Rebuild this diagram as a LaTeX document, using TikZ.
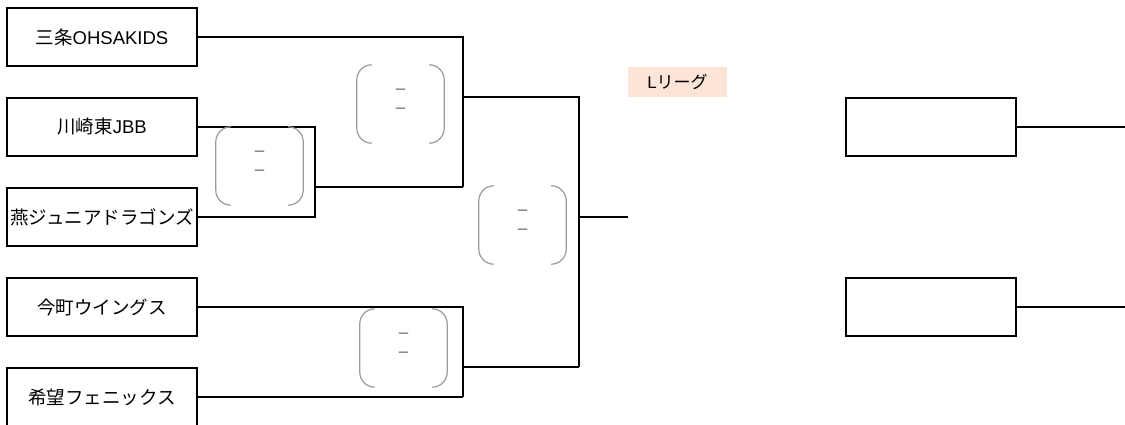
\documentclass[tikz,border=0pt]{standalone}
\usepackage{fontspec}
\setmainfont{Liberation Sans}
\newfontfamily\jp{Noto Sans CJK JP}
\begin{document}
\begin{tikzpicture}[x=1pt,y=-1pt,
  team/.style={draw=black,line width=2pt,minimum width=190pt,minimum height=58pt,inner sep=0pt,
    font=\fontsize{18.5}{20}\selectfont},
  blank/.style={draw=black,line width=2pt,minimum width=170pt,minimum height=58pt,inner sep=0pt},
  conn/.style={draw=black,line width=2pt},
  score/.style={minimum width=87pt,minimum height=78pt,inner sep=0pt},
  bracket/.style={draw=black!40,line width=1.2pt,rounded corners=15pt},
  dashmark/.style={text=black!80,font=\jp\fontsize{13}{14}\selectfont,inner sep=0pt},
  league/.style={fill=tagfill,minimum width=99pt,minimum height=30pt,inner sep=0pt,
    font=\fontsize{17}{19}\selectfont}]
\definecolor{tagfill}{HTML}{FCE4D6}
\useasboundingbox (0,0) rectangle (1125,425);
% team boxes
\node[team] (t1) at (102,37) {{\jp 三条}OHSAKIDS};
\node[team] (t2) at (102,127) {{\jp 川崎東}JBB};
\node[team] (t3) at (102,217) {\jp 燕ジュニアドラゴンズ};
\node[team] (t4) at (102,307) {\jp 今町ウイングス};
\node[team] (t5) at (102,397) {\jp 希望フェニックス};
% right blank boxes
\node[blank] (r1) at (931,127) {};
\node[blank] (r2) at (931,307) {};
% junction coordinates
\coordinate (q1) at (463,97);
\coordinate (q1b) at (463,187);
\coordinate (q2) at (315,187);
\coordinate (q3) at (579,217);
\coordinate (q3b) at (579,367);
\coordinate (q4) at (463,367);
\coordinate (q4b) at (463,397);
\coordinate (fin) at (628,217);
\coordinate (e1) at (1125,127);
\coordinate (e2) at (1125,307);
% connectors
\draw[conn] (t1.east) -| (q1b);
\draw[conn] (t2.east) -- ++(117,0) |- (t3.east);
\draw[conn] (q2) -- (q1b);
\draw[conn] (q1) -| (q3b);
\draw[conn] (q4) -- (q3b);
\draw[conn] (t4.east) -| (q4b);
\draw[conn] (t5.east) -- (q4b);
\draw[conn] (q3) -- (fin);
\draw[conn] (r1.east) -- (e1);
\draw[conn] (r2.east) -- (e2);
% score brackets
\node[score] (s1) at (400.5,104) {};
\node[score] (s2) at (259.5,166) {};
\node[score] (s3) at (522.5,225) {};
\node[score] (s4) at (403.5,348) {};
\foreach \s in {s1,s2,s3,s4}{
  \draw[bracket] ([xshift=15pt]\s.north west) -| (\s.south west) -- ([xshift=15pt]\s.south west);
  \draw[bracket] ([xshift=-15pt]\s.north east) -| (\s.south east) -- ([xshift=-15pt]\s.south east);
  \node[dashmark] (\s u) at ([yshift=12pt]\s.center) {－};
  \node[dashmark] (\s l) at ([yshift=-7pt]\s.center) {－};
}
% league label
\node[league] (lg) at (677.5,82) {L{\jp リーグ}};
\end{tikzpicture}
\end{document}
